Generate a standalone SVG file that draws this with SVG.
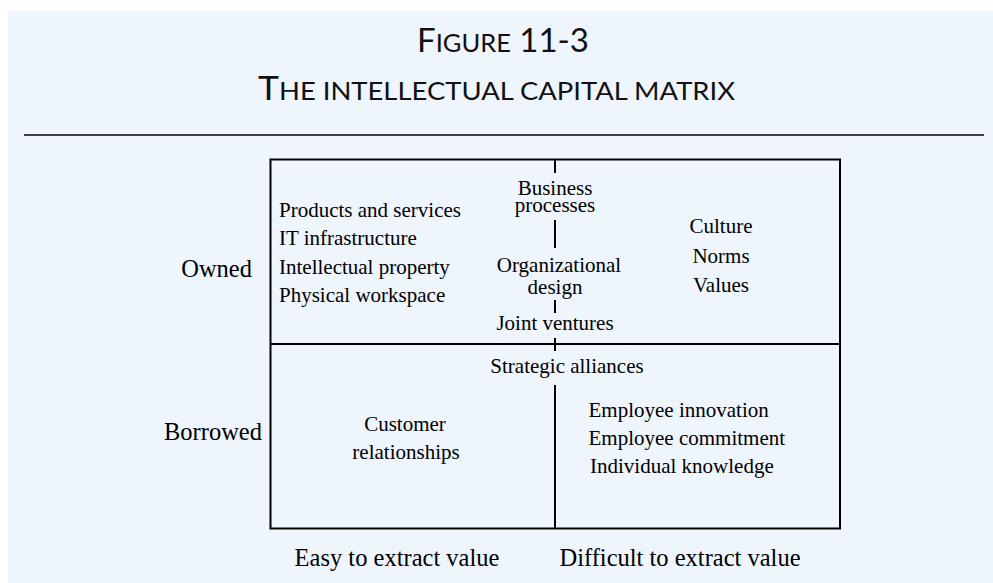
<svg xmlns="http://www.w3.org/2000/svg" width="993" height="583" viewBox="0 0 993 583">
<style>
.t{font-family:"Liberation Serif","Times New Roman",serif;font-size:21px;fill:#000}
.l{font-family:"Liberation Serif","Times New Roman",serif;font-size:24.5px;fill:#000}
.h{font-family:Lato,"Open Sans",sans-serif;fill:#111}
.ln{stroke:#000;stroke-width:2;fill:none}
</style>
<rect x="0" y="0" width="993" height="583" fill="#fff"/>
<rect x="8" y="11" width="985" height="572" fill="#eef5fc"/>
<g id="title">
<text class="h" x="503" y="52" text-anchor="middle" font-size="33">F<tspan font-size="25.5">IGURE</tspan> 11-3</text>
<text class="h" x="496.5" y="100" text-anchor="middle" font-size="33" textLength="477" lengthAdjust="spacingAndGlyphs">T<tspan font-size="25.5">HE INTELLECTUAL CAPITAL MATRIX</tspan></text>
</g>
<line x1="24" y1="135" x2="984" y2="135" stroke="#000" stroke-width="1.5"/>
<g id="matrix">
<rect class="ln" x="270.5" y="159.5" width="569.5" height="369"/>
<line class="ln" x1="270.5" y1="344" x2="840" y2="344"/>
</g>
<g id="connectors">
<line class="ln" x1="555" y1="159" x2="555" y2="173"/>
<line class="ln" x1="555" y1="220" x2="555" y2="248"/>
<line class="ln" x1="555" y1="300" x2="555" y2="313"/>
<line class="ln" x1="555" y1="338" x2="555" y2="351"/>
<line class="ln" x1="555" y1="385" x2="555" y2="529"/>
</g>
<g id="owned-easy">
<text class="t" x="279" y="217">Products and services</text>
<text class="t" x="279" y="245">IT infrastructure</text>
<text class="t" x="279" y="273.5">Intellectual property</text>
<text class="t" x="279" y="302">Physical workspace</text>
</g>
<g id="owned-middle">
<text class="t" text-anchor="middle"><tspan x="555" y="195">Business</tspan><tspan x="555" y="212">processes</tspan></text>
<text class="t" text-anchor="middle"><tspan x="559" y="272">Organizational</tspan><tspan x="555" y="293.5">design</tspan></text>
<text class="t" x="555" y="330" text-anchor="middle">Joint ventures</text>
</g>
<g id="owned-difficult">
<text class="t" x="721" y="233" text-anchor="middle">Culture</text>
<text class="t" x="721" y="263" text-anchor="middle">Norms</text>
<text class="t" x="721" y="292" text-anchor="middle">Values</text>
</g>
<g id="borrowed-middle">
<text class="t" x="567" y="373" text-anchor="middle">Strategic alliances</text>
</g>
<g id="borrowed-easy">
<text class="t" x="405" y="431" text-anchor="middle">Customer</text>
<text class="t" x="406" y="458.5" text-anchor="middle">relationships</text>
</g>
<g id="borrowed-difficult">
<text class="t" x="588.5" y="417">Employee innovation</text>
<text class="t" x="588.5" y="445">Employee commitment</text>
<text class="t" x="590" y="473">Individual knowledge</text>
</g>
<g id="labels">
<text class="l" x="252" y="277" text-anchor="end">Owned</text>
<text class="l" x="262" y="440" text-anchor="end">Borrowed</text>
<text class="l" x="397" y="566" text-anchor="middle">Easy to extract value</text>
<text class="l" x="680" y="566" text-anchor="middle">Difficult to extract value</text>
</g>
</svg>
